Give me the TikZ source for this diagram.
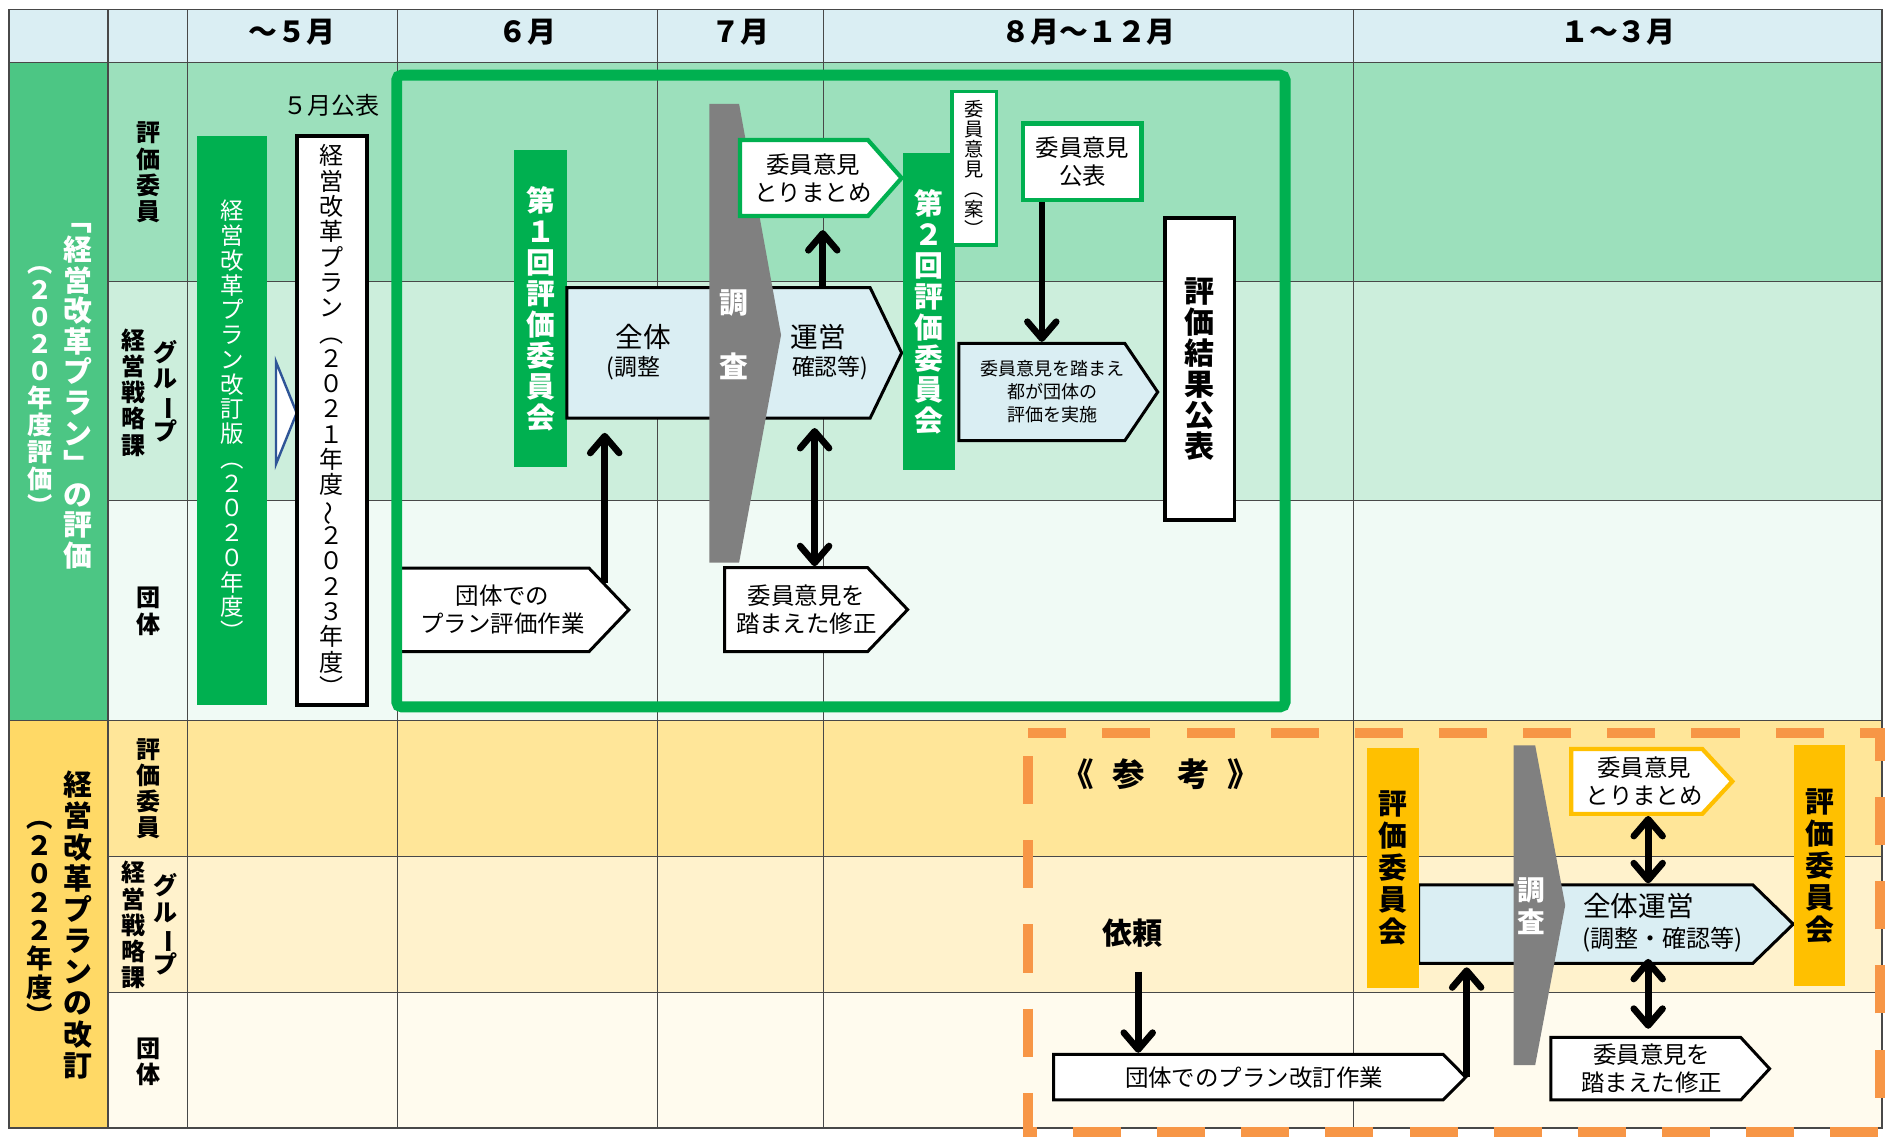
\documentclass[tikz,border=0pt]{standalone}
\usepackage{fontspec}
\setmainfont{Noto Sans CJK JP}
\usepackage{graphicx}
\usetikzlibrary{arrows.meta,bending,positioning,shapes.symbols}

\definecolor{hdrblue}{HTML}{DAEEF3}
\definecolor{grA}{HTML}{4CC684}
\definecolor{grB}{HTML}{9CE0BC}
\definecolor{grC}{HTML}{CCEEDC}
\definecolor{grD}{HTML}{F0FAF5}
\definecolor{ylA}{HTML}{FFD966}
\definecolor{ylB}{HTML}{FFE699}
\definecolor{ylC}{HTML}{FFF2CC}
\definecolor{ylD}{HTML}{FFFBEE}
\definecolor{kgreen}{HTML}{00B050}
\definecolor{kyellow}{HTML}{FFC000}
\definecolor{korange}{HTML}{F79646}
\definecolor{kgray}{HTML}{808080}
\definecolor{knavy}{HTML}{2F5597}
\definecolor{gridline}{HTML}{484848}

% vertical (tate) text: one character per line
\makeatletter
\newcommand\tate[2][1.05]{\vbox{\baselineskip=#1em\lineskiplimit=-\maxdimen
  \@tfor\tch:=#2\do{\hbox to 1em{\hss\tch\hss}}}}
\makeatother
\newcommand\tbar{\rotatebox[origin=c]{-90}{ー}}
\newcommand\tnami{\rotatebox[origin=c]{90}{～}}

\tikzset{
  hdr/.style={inner sep=0pt,font=\fontsize{24}{28}\selectfont\bfseries},
  role/.style={inner sep=0pt,font=\fontsize{20}{24}\selectfont\bfseries},
  side/.style={inner sep=0pt,font=\fontsize{24}{28}\selectfont\bfseries},
  gbar/.style={rectangle,fill=kgreen,text=white,inner sep=0pt},
  ybar/.style={rectangle,fill=kyellow,inner sep=0pt,font=\fontsize{24}{28}\selectfont\bfseries},
  wbox/.style={rectangle,draw=black,fill=white,inner sep=0pt},
  penta/.style={signal,signal to=east,draw=black,line width=2.5pt,fill=white,inner sep=0pt},
  ptxt/.style={inner sep=0pt,align=center,font=\fontsize{19.5}{23.5}\selectfont},
  gtxt/.style={inner sep=0pt,text=white,font=\fontsize{24}{28}\selectfont\bfseries},
  arr/.style={line width=5.5pt,-{Straight Barb[length=14pt,width=24pt,round]}},
  dblarr/.style={line width=5.5pt,{Straight Barb[length=14pt,width=24pt,round]}-{Straight Barb[length=14pt,width=24pt,round]}},
}

\begin{document}
\begin{tikzpicture}[x=1pt,y=-1pt]
  \useasboundingbox (0,0) rectangle (1568,946.6);

  % table backgrounds
  \fill[hdrblue] (7.4,7.8) rectangle (1565.7,51.9);
  \fill[grA] (7.4,51.9) rectangle (89.9,599.5);
  \fill[grB] (89.9,51.9) rectangle (1565.7,234.3);
  \fill[grC] (89.9,234.3) rectangle (1565.7,416.5);
  \fill[grD] (89.9,416.5) rectangle (1565.7,599.5);
  \fill[ylA] (7.4,599.5) rectangle (89.9,938.2);
  \fill[ylB] (89.9,599.5) rectangle (1565.7,712.2);
  \fill[ylC] (89.9,712.2) rectangle (1565.7,825.6);
  \fill[ylD] (89.9,825.6) rectangle (1565.7,938.2);

  % grid lines
  \draw[gridline,line width=1.3pt] (7.4,7.8) rectangle (1565.7,938.2);
  \draw[gridline,line width=1.3pt] (7.4,51.9) -- (1565.7,51.9) (7.4,599.5) -- (1565.7,599.5);
  \draw[gridline,line width=1.1pt] (89.9,234.3) -- (1565.7,234.3) (89.9,416.5) -- (1565.7,416.5)
    (89.9,712.2) -- (1565.7,712.2) (89.9,825.6) -- (1565.7,825.6);
  \draw[gridline,line width=1.1pt] (89.9,7.8) -- (89.9,938.2) (156,7.8) -- (156,938.2)
    (330.5,7.8) -- (330.5,938.2) (546.7,7.8) -- (546.7,938.2)
    (684.8,7.8) -- (684.8,938.2) (1125.9,7.8) -- (1125.9,938.2);

  % header
  \node[hdr] (m5) at (243,27) {～５月};
  \node[hdr] (m6) at (438.6,27) {６月};
  \node[hdr] (m7) at (615.8,27) {７月};
  \node[hdr] (m8) at (905.4,27) {８月～１２月};
  \node[hdr] (m1) at (1345.8,27) {１～３月};

  % left labels
  \node[side,text=white] (s1a) at (65,329.5) {\tate[1.06]{﹁経営改革プラン﹂の評価}};
  \node[side,text=white,font=\fontsize{21}{24}\selectfont\bfseries] (s1b) at (33,325) {\tate[1.07]{︵２０２０年度評価︶}};
  \node[side] (s2a) at (65,769.5) {\tate[1.08]{経営改革プランの改訂}};
  \node[side,font=\fontsize{22}{26}\selectfont\bfseries] (s2b) at (33,768) {\tate[1.07]{︵２０２２年度︶}};

  \node[role] (r1) at (123.5,143.5) {\tate[1.09]{評価委員}};
  \node[role] (r2a) at (137.5,325.5) {\tate[1.09]{グル\tbar プ}};
  \node[role] (r2b) at (110.7,326.5) {\tate[1.09]{経営戦略課}};
  \node[role] (r3) at (123.5,508.5) {\tate[1.09]{団体}};
  \node[role] (q1) at (123.5,656) {\tate[1.09]{評価委員}};
  \node[role] (q2a) at (137.5,769) {\tate[1.09]{グル\tbar プ}};
  \node[role] (q2b) at (110.7,769.5) {\tate[1.09]{経営戦略課}};
  \node[role] (q3) at (123.5,883) {\tate[1.09]{団体}};

  % 2020 evaluation
  \node[gbar,minimum width=58pt,minimum height=473.8pt,font=\fontsize{19.5}{23}\selectfont] (kaitei) at (193,349.7) {\tate[1.056]{経営改革プラン改訂版︵２０２０年度︶}};
  \draw[knavy,fill=white,line width=2pt] (229.6,301) -- (246.8,343.5) -- (229.6,386) -- cycle;
  \node[wbox,line width=3.5pt,minimum width=58.2pt,minimum height=473.6pt,font=\fontsize{20}{24}\selectfont] (plan) at (275.9,349.8) {\tate[1.053]{経営改革プラン︵２０２１年度\tnami ２０２３年度︶}};
  \node[above=14pt of plan,inner sep=0pt,font=\fontsize{20}{24}\selectfont] (pub5) {５月公表};

  \node[penta,text width=160pt,minimum height=69.4pt,signal pointer angle=92.8] (hyoka) at (410,507.3) {};
  \node[ptxt] (hyokat) at ([xshift=8pt]hyoka.center) {団体での\\プラン評価作業};
  \draw[kgreen,line width=9pt,rounded corners=4pt] (330,62.5) rectangle (1069,588); % frame

  \node[gbar,minimum width=44pt,minimum height=263.5pt,font=\fontsize{24}{28}\selectfont\bfseries] (kai1) at (449.6,256.75) {\tate[1.077]{第１回評価委員会}};
  \node[penta,fill=hdrblue,text width=252.2pt,minimum height=108.5pt,signal pointer angle=128.4] (zentai1) at (597.7,293.55) {};
  \node[inner sep=0pt,font=\fontsize{23}{26}\selectfont] (zt1) at (535,280) {全体};
  \node[inner sep=0pt,font=\fontsize{19}{22}\selectfont] (zt2) at (527,306) {(調整};
  \node[inner sep=0pt,font=\fontsize{23}{26}\selectfont] (zt3) at (680.6,280) {運営};
  \node[inner sep=0pt,font=\fontsize{19}{22}\selectfont] (zt4) at (690.6,306) {確認等)};
  \fill[kgray] (590,86.5) -- (614.8,86.5) -- (649.7,278.7) -- (614.8,468) -- (590,468) -- cycle;
  \node[gtxt] (cho1) at (610.7,252.4) {調};
  \node[gtxt] (sa1) at (610.7,305) {査};

  \node[penta,draw=kgreen,line width=3.5pt,text width=106.4pt,minimum height=63.2pt,signal pointer angle=97] (mat1) at (668.8,148.1) {};
  \node[ptxt] (mat1t) at ([xshift=7.5pt]mat1.center) {委員意見\\とりまとめ};
  \node[penta,text width=118.9pt,minimum height=69.8pt,signal pointer angle=92.7] (shu1) at (662.25,507.1) {};
  \node[ptxt] (shu1t) at ([xshift=8.5pt]shu1.center) {委員意見を\\踏まえた修正};

  \coordinate (u1) at (503,485);
  \coordinate (u2) at (684.4,0);
  \coordinate (u3) at (677.6,0);
  \draw[arr,shorten >=11pt] (u1) -- (u1 |- zentai1.south);
  \draw[arr,shorten >=10pt] (u2 |- zentai1.north) -- (u2 |- mat1.south);
  \draw[dblarr,shorten <=7pt] (u3 |- zentai1.south) -- (u3 |- shu1.north);

  \node[gbar,minimum width=43pt,minimum height=263.4pt,font=\fontsize{24}{28}\selectfont\bfseries] (kai2) at (772.5,259.3) {\tate[1.077]{第２回評価委員会}};
  \node[wbox,draw=kgreen,line width=3pt,minimum width=37.3pt,minimum height=127.5pt,font=\fontsize{16}{19}\selectfont] (an) at (810.35,140) {\tate[1.034]{委員意見︵案︶}};
  \node[wbox,draw=kgreen,line width=4pt,minimum width=98.8pt,minimum height=63.8pt,align=center,font=\fontsize{19.5}{23.4}\selectfont] (koho) at (900.4,134.5) {委員意見\\公表};
  \node[penta,fill=hdrblue,text width=138pt,minimum height=81pt,signal pointer angle=111.8] (tomi) at (866.6,326.1) {};
  \node[ptxt,font=\fontsize{15}{19.2}\selectfont] (tomit) at ([xshift=9pt]tomi.center) {委員意見を踏まえ\\都が団体の\\評価を実施};
  \coordinate (u4) at (866.6,0);
  \draw[arr] (u4 |- koho.south) -- (u4 |- tomi.north);
  \node[wbox,line width=2.8pt,minimum width=57.7pt,minimum height=251.1pt,font=\fontsize{25}{28}\selectfont\bfseries] (kekka) at (997.85,307) {\tate[1.035]{評価結果公表}};

  % 2022 revision (reference)
  \draw[korange,line width=8.3pt,dash pattern=on 40pt off 30pt,dash phase=51pt] (855,610) rectangle (1564,941.5);
  \node[inner sep=0pt,font=\fontsize{27}{30}\selectfont\bfseries] (sanko) at (965.6,644) {《\hspace{15pt}参　考\hspace{15pt}》};
  \node[inner sep=0pt,font=\fontsize{25}{28}\selectfont\bfseries] (irai) at (942,776) {依頼};
  \node[penta,text width=324pt,minimum height=38pt,signal pointer angle=90.6] (kaiwork) at (1038.4,896) {};
  \node[ptxt] (kaiworkt) at ([xshift=4.7pt]kaiwork.center) {団体でのプラン改訂作業};
  \coordinate (u5) at (946.8,808.3);
  \draw[arr] (u5) -- (u5 |- kaiwork.north);

  \node[penta,fill=hdrblue,text width=278pt,minimum height=65.4pt,signal pointer angle=88.3] (zentai2) at (1319,768.7) {};
  \node[inner sep=0pt,font=\fontsize{23}{26}\selectfont] (zt5) at (1363,754) {全体運営};
  \node[inner sep=0pt,font=\fontsize{20}{23}\selectfont] (zt6) at (1383,782) {(調整・確認等)};
  \node[ybar,minimum width=43pt,minimum height=200pt] (kai3) at (1158.5,722) {\tate[1.11]{評価委員会}};
  \node[ybar,minimum width=43pt,minimum height=200pt] (kai4) at (1513.5,720) {\tate[1.11]{評価委員会}};
  \fill[kgray] (1259,620) -- (1277,620) -- (1302,753) -- (1277,886) -- (1259,886) -- cycle;
  \node[gtxt,font=\fontsize{23}{26}\selectfont\bfseries] (cho2) at (1274,741) {調};
  \node[gtxt,font=\fontsize{23}{26}\selectfont\bfseries] (sa2) at (1274,767) {査};

  \node[penta,draw=kyellow,line width=3.5pt,text width=109pt,minimum height=54pt,signal pointer angle=94.4] (mat2) at (1361.5,650) {};
  \node[ptxt] (mat2t) at ([xshift=6.2pt]mat2.center) {委員意見\\とりまとめ};
  \node[penta,text width=158pt,minimum height=52pt,signal pointer angle=94.6] (shu2) at (1369,889) {};
  \node[ptxt] (shu2t) at ([xshift=5pt]shu2.center) {委員意見を\\踏まえた修正};

  \coordinate (u6) at (1220,896);
  \coordinate (u7) at (1371,0);
  \draw[arr,shorten >=2pt] (u6) -- (u6 |- zentai2.south);
  \draw[dblarr] (u7 |- mat2.south) -- (u7 |- zentai2.north);
  \draw[dblarr,shorten <=-5pt,shorten >=6pt] (u7 |- zentai2.south) -- (u7 |- shu2.north);
\end{tikzpicture}
\end{document}
